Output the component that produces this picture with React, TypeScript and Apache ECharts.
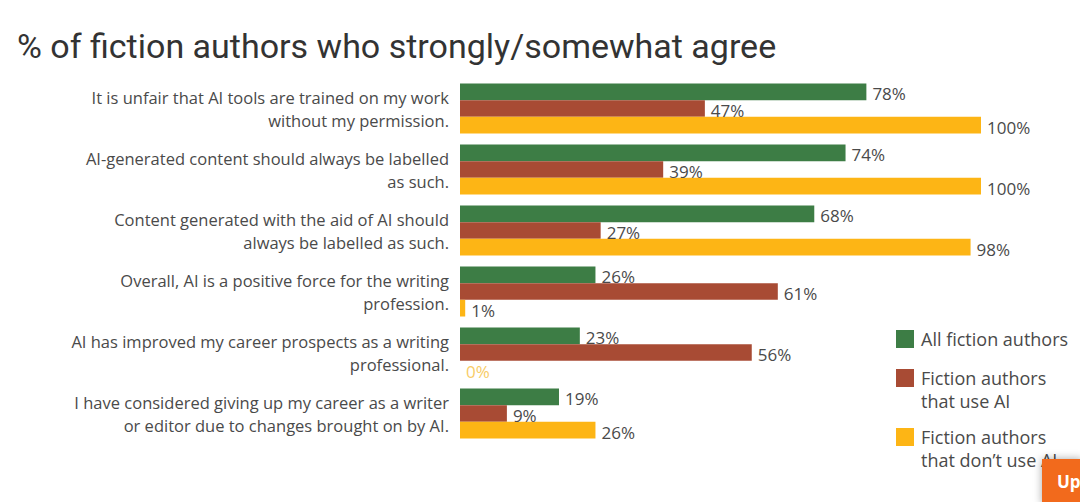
import React, { useEffect, useRef } from "react";
import * as echarts from "echarts";

const TITLE = "% of fiction authors who strongly/somewhat agree";

const categories = [
  "It is unfair that AI tools are trained on my work\nwithout my permission.",
  "AI-generated content should always be labelled\nas such.",
  "Content generated with the aid of AI should\nalways be labelled as such.",
  "Overall, AI is a positive force for the writing\nprofession.",
  "AI has improved my career prospects as a writing\nprofessional.",
  "I have considered giving up my career as a writer\nor editor due to changes brought on by AI.",
];

const seriesNames = [
  "All fiction authors",
  "Fiction authors that use AI",
  "Fiction authors that don’t use AI",
];
const legendLines = [
  ["All fiction authors"],
  ["Fiction authors", "that use AI"],
  ["Fiction authors", "that don’t use AI"],
];

const allAuthors = [78, 74, 68, 26, 23, 19];
const useAI = [47, 39, 27, 61, 56, 9];
const dontUseAI = [100, 100, 98, 1, 0, 26];

const colors = ["#3d7d45", "#a84b34", "#fdb515"];
const FONT = "'Open Sans', 'Noto Sans', sans-serif";
const TEXT = "#4a4a4a";

export default function App() {
  const ref = useRef<HTMLDivElement>(null);
  useEffect(() => {
    if (!ref.current) return;
    const chart = echarts.init(ref.current, undefined, { renderer: "svg" });
    const values = [allAuthors, useAI, dontUseAI];

    const legendGraphics: any[] = [];
    const legendTops = [330, 369, 428];
    legendLines.forEach((lines, i) => {
      legendGraphics.push({
        type: "rect",
        shape: { x: 896, y: legendTops[i], width: 18, height: 18 },
        style: { fill: colors[i] },
      });
      lines.forEach((ln, j) => {
        legendGraphics.push({
          type: "text",
          x: 921,
          y: legendTops[i] + 9 + j * 23,
          style: {
            text: ln,
            fill: TEXT,
            font: `18px ${FONT}`,
            verticalAlign: "middle",
            align: "left",
          },
        });
      });
    });
    legendGraphics.push({
      type: "rect",
      shape: { x: 1042, y: 459, width: 40, height: 45 },
      style: { fill: "#f26a1b", shadowBlur: 8, shadowColor: "rgba(0,0,0,0.35)" },
    });
    legendGraphics.push({
      type: "text",
      x: 1057,
      y: 481,
      style: {
        text: "Up",
        fill: "#ffffff",
        font: `bold 17px ${FONT}`,
        verticalAlign: "middle",
      },
    });

    chart.setOption({
      animation: false,
      backgroundColor: "#ffffff",
      title: {
        text: TITLE,
        left: 17,
        top: 29,
        padding: 0,
        textStyle: {
          fontFamily: "Roboto, 'Open Sans', sans-serif",
          fontSize: 34,
          fontWeight: 400,
          color: "#333333",
        },
      },
      grid: { left: 460, top: 78, width: 521, height: 366, containLabel: false },
      xAxis: {
        type: "value",
        min: 0,
        max: 100,
        show: false,
      },
      yAxis: {
        type: "category",
        data: categories,
        inverse: true,
        axisLine: { show: false },
        axisTick: { show: false },
        splitLine: { show: false },
        axisLabel: {
          margin: 11,
          fontFamily: FONT,
          fontSize: 16.5,
          color: TEXT,
          lineHeight: 23,
          align: "right",
        },
      },
      series: seriesNames.map((name, i) => ({
        name,
        type: "bar",
        barGap: "0%",
        barCategoryGap: "18%",
        itemStyle: { color: colors[i] },
        label: {
          show: true,
          position: "right",
          distance: 6,
          offset: [0, 2],
          formatter: "{c}%",
          fontFamily: FONT,
          fontSize: 17,
          color: TEXT,
        },
        data: values[i].map((v) =>
          v === 0 && i === 2
            ? { value: v, label: { color: "#f8cc66" } }
            : v
        ),
      })),
      graphic: legendGraphics,
    });
    return () => chart.dispose();
  }, []);
  return (
    <div
      ref={ref}
      style={{ position: "absolute", left: 0, top: 0, width: 1080, height: 502 }}
    />
  );
}
